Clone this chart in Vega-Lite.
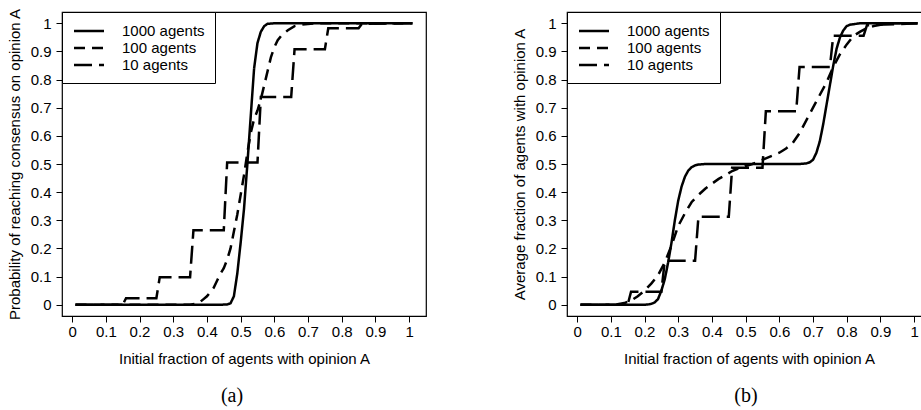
{
  "$schema": "https://vega.github.io/schema/vega-lite/v6.json",
  "padding": {"left": 6, "top": 7, "right": 0, "bottom": 0},
  "background": "white",
  "datasets": {
    "a": [
      {"x": 0.01, "y": 0, "series": "1000 agents"},
      {"x": 0.44, "y": 0, "series": "1000 agents"},
      {"x": 0.46, "y": 0.001, "series": "1000 agents"},
      {"x": 0.47, "y": 0.005, "series": "1000 agents"},
      {"x": 0.48, "y": 0.03, "series": "1000 agents"},
      {"x": 0.49, "y": 0.11, "series": "1000 agents"},
      {"x": 0.50, "y": 0.22, "series": "1000 agents"},
      {"x": 0.51, "y": 0.34, "series": "1000 agents"},
      {"x": 0.52, "y": 0.5, "series": "1000 agents"},
      {"x": 0.53, "y": 0.67, "series": "1000 agents"},
      {"x": 0.54, "y": 0.84, "series": "1000 agents"},
      {"x": 0.55, "y": 0.93, "series": "1000 agents"},
      {"x": 0.56, "y": 0.97, "series": "1000 agents"},
      {"x": 0.57, "y": 0.99, "series": "1000 agents"},
      {"x": 0.58, "y": 0.998, "series": "1000 agents"},
      {"x": 0.60, "y": 1, "series": "1000 agents"},
      {"x": 1.01, "y": 1, "series": "1000 agents"},
      {"x": 0.01, "y": 0, "series": "100 agents"},
      {"x": 0.35, "y": 0, "series": "100 agents"},
      {"x": 0.37, "y": 0.004, "series": "100 agents"},
      {"x": 0.38, "y": 0.01, "series": "100 agents"},
      {"x": 0.39, "y": 0.02, "series": "100 agents"},
      {"x": 0.40, "y": 0.03, "series": "100 agents"},
      {"x": 0.41, "y": 0.045, "series": "100 agents"},
      {"x": 0.42, "y": 0.06, "series": "100 agents"},
      {"x": 0.43, "y": 0.085, "series": "100 agents"},
      {"x": 0.44, "y": 0.11, "series": "100 agents"},
      {"x": 0.45, "y": 0.13, "series": "100 agents"},
      {"x": 0.46, "y": 0.16, "series": "100 agents"},
      {"x": 0.47, "y": 0.2, "series": "100 agents"},
      {"x": 0.48, "y": 0.26, "series": "100 agents"},
      {"x": 0.49, "y": 0.32, "series": "100 agents"},
      {"x": 0.50, "y": 0.39, "series": "100 agents"},
      {"x": 0.51, "y": 0.46, "series": "100 agents"},
      {"x": 0.52, "y": 0.54, "series": "100 agents"},
      {"x": 0.53, "y": 0.61, "series": "100 agents"},
      {"x": 0.54, "y": 0.66, "series": "100 agents"},
      {"x": 0.55, "y": 0.69, "series": "100 agents"},
      {"x": 0.56, "y": 0.73, "series": "100 agents"},
      {"x": 0.57, "y": 0.78, "series": "100 agents"},
      {"x": 0.58, "y": 0.83, "series": "100 agents"},
      {"x": 0.59, "y": 0.88, "series": "100 agents"},
      {"x": 0.60, "y": 0.915, "series": "100 agents"},
      {"x": 0.61, "y": 0.94, "series": "100 agents"},
      {"x": 0.62, "y": 0.955, "series": "100 agents"},
      {"x": 0.64, "y": 0.975, "series": "100 agents"},
      {"x": 0.66, "y": 0.99, "series": "100 agents"},
      {"x": 0.68, "y": 0.995, "series": "100 agents"},
      {"x": 0.72, "y": 1, "series": "100 agents"},
      {"x": 1.01, "y": 1, "series": "100 agents"},
      {"x": 0.01, "y": 0, "series": "10 agents"},
      {"x": 0.15, "y": 0, "series": "10 agents"},
      {"x": 0.16, "y": 0.023, "series": "10 agents"},
      {"x": 0.25, "y": 0.023, "series": "10 agents"},
      {"x": 0.26, "y": 0.098, "series": "10 agents"},
      {"x": 0.35, "y": 0.098, "series": "10 agents"},
      {"x": 0.36, "y": 0.265, "series": "10 agents"},
      {"x": 0.45, "y": 0.265, "series": "10 agents"},
      {"x": 0.46, "y": 0.505, "series": "10 agents"},
      {"x": 0.55, "y": 0.505, "series": "10 agents"},
      {"x": 0.56, "y": 0.738, "series": "10 agents"},
      {"x": 0.65, "y": 0.738, "series": "10 agents"},
      {"x": 0.66, "y": 0.908, "series": "10 agents"},
      {"x": 0.75, "y": 0.908, "series": "10 agents"},
      {"x": 0.76, "y": 0.982, "series": "10 agents"},
      {"x": 0.85, "y": 0.982, "series": "10 agents"},
      {"x": 0.86, "y": 0.998, "series": "10 agents"},
      {"x": 1.01, "y": 1, "series": "10 agents"}
    ],
    "b": [
      {"x": 0.01, "y": 0, "series": "1000 agents"},
      {"x": 0.20, "y": 0, "series": "1000 agents"},
      {"x": 0.21, "y": 0.001, "series": "1000 agents"},
      {"x": 0.22, "y": 0.003, "series": "1000 agents"},
      {"x": 0.23, "y": 0.008, "series": "1000 agents"},
      {"x": 0.24, "y": 0.02, "series": "1000 agents"},
      {"x": 0.25, "y": 0.05, "series": "1000 agents"},
      {"x": 0.26, "y": 0.09, "series": "1000 agents"},
      {"x": 0.27, "y": 0.15, "series": "1000 agents"},
      {"x": 0.28, "y": 0.22, "series": "1000 agents"},
      {"x": 0.29, "y": 0.3, "series": "1000 agents"},
      {"x": 0.30, "y": 0.37, "series": "1000 agents"},
      {"x": 0.31, "y": 0.42, "series": "1000 agents"},
      {"x": 0.32, "y": 0.455, "series": "1000 agents"},
      {"x": 0.33, "y": 0.477, "series": "1000 agents"},
      {"x": 0.34, "y": 0.489, "series": "1000 agents"},
      {"x": 0.35, "y": 0.495, "series": "1000 agents"},
      {"x": 0.36, "y": 0.498, "series": "1000 agents"},
      {"x": 0.38, "y": 0.5, "series": "1000 agents"},
      {"x": 0.66, "y": 0.5, "series": "1000 agents"},
      {"x": 0.68, "y": 0.502, "series": "1000 agents"},
      {"x": 0.69, "y": 0.506, "series": "1000 agents"},
      {"x": 0.70, "y": 0.515, "series": "1000 agents"},
      {"x": 0.71, "y": 0.54, "series": "1000 agents"},
      {"x": 0.72, "y": 0.58, "series": "1000 agents"},
      {"x": 0.73, "y": 0.64, "series": "1000 agents"},
      {"x": 0.74, "y": 0.71, "series": "1000 agents"},
      {"x": 0.75, "y": 0.78, "series": "1000 agents"},
      {"x": 0.76, "y": 0.85, "series": "1000 agents"},
      {"x": 0.77, "y": 0.91, "series": "1000 agents"},
      {"x": 0.78, "y": 0.95, "series": "1000 agents"},
      {"x": 0.79, "y": 0.975, "series": "1000 agents"},
      {"x": 0.80, "y": 0.99, "series": "1000 agents"},
      {"x": 0.81, "y": 0.995, "series": "1000 agents"},
      {"x": 0.84, "y": 1, "series": "1000 agents"},
      {"x": 1.01, "y": 1, "series": "1000 agents"},
      {"x": 0.01, "y": 0, "series": "100 agents"},
      {"x": 0.10, "y": 0, "series": "100 agents"},
      {"x": 0.12, "y": 0.002, "series": "100 agents"},
      {"x": 0.14, "y": 0.006, "series": "100 agents"},
      {"x": 0.16, "y": 0.015, "series": "100 agents"},
      {"x": 0.18, "y": 0.03, "series": "100 agents"},
      {"x": 0.20, "y": 0.05, "series": "100 agents"},
      {"x": 0.22, "y": 0.075, "series": "100 agents"},
      {"x": 0.24, "y": 0.105, "series": "100 agents"},
      {"x": 0.26, "y": 0.15, "series": "100 agents"},
      {"x": 0.28, "y": 0.21, "series": "100 agents"},
      {"x": 0.30, "y": 0.28, "series": "100 agents"},
      {"x": 0.32, "y": 0.325, "series": "100 agents"},
      {"x": 0.34, "y": 0.365, "series": "100 agents"},
      {"x": 0.36, "y": 0.39, "series": "100 agents"},
      {"x": 0.38, "y": 0.412, "series": "100 agents"},
      {"x": 0.40, "y": 0.43, "series": "100 agents"},
      {"x": 0.42, "y": 0.447, "series": "100 agents"},
      {"x": 0.44, "y": 0.46, "series": "100 agents"},
      {"x": 0.46, "y": 0.475, "series": "100 agents"},
      {"x": 0.48, "y": 0.485, "series": "100 agents"},
      {"x": 0.50, "y": 0.493, "series": "100 agents"},
      {"x": 0.52, "y": 0.5, "series": "100 agents"},
      {"x": 0.54, "y": 0.51, "series": "100 agents"},
      {"x": 0.56, "y": 0.52, "series": "100 agents"},
      {"x": 0.58, "y": 0.53, "series": "100 agents"},
      {"x": 0.60, "y": 0.54, "series": "100 agents"},
      {"x": 0.62, "y": 0.555, "series": "100 agents"},
      {"x": 0.64, "y": 0.575, "series": "100 agents"},
      {"x": 0.66, "y": 0.61, "series": "100 agents"},
      {"x": 0.68, "y": 0.655, "series": "100 agents"},
      {"x": 0.70, "y": 0.7, "series": "100 agents"},
      {"x": 0.72, "y": 0.745, "series": "100 agents"},
      {"x": 0.74, "y": 0.79, "series": "100 agents"},
      {"x": 0.76, "y": 0.845, "series": "100 agents"},
      {"x": 0.78, "y": 0.89, "series": "100 agents"},
      {"x": 0.80, "y": 0.925, "series": "100 agents"},
      {"x": 0.82, "y": 0.955, "series": "100 agents"},
      {"x": 0.84, "y": 0.97, "series": "100 agents"},
      {"x": 0.86, "y": 0.983, "series": "100 agents"},
      {"x": 0.88, "y": 0.99, "series": "100 agents"},
      {"x": 0.90, "y": 0.995, "series": "100 agents"},
      {"x": 0.93, "y": 1, "series": "100 agents"},
      {"x": 1.01, "y": 1, "series": "100 agents"},
      {"x": 0.01, "y": 0, "series": "10 agents"},
      {"x": 0.15, "y": 0, "series": "10 agents"},
      {"x": 0.16, "y": 0.046, "series": "10 agents"},
      {"x": 0.25, "y": 0.046, "series": "10 agents"},
      {"x": 0.26, "y": 0.156, "series": "10 agents"},
      {"x": 0.35, "y": 0.156, "series": "10 agents"},
      {"x": 0.36, "y": 0.313, "series": "10 agents"},
      {"x": 0.45, "y": 0.313, "series": "10 agents"},
      {"x": 0.46, "y": 0.487, "series": "10 agents"},
      {"x": 0.55, "y": 0.487, "series": "10 agents"},
      {"x": 0.56, "y": 0.687, "series": "10 agents"},
      {"x": 0.65, "y": 0.687, "series": "10 agents"},
      {"x": 0.66, "y": 0.845, "series": "10 agents"},
      {"x": 0.75, "y": 0.845, "series": "10 agents"},
      {"x": 0.76, "y": 0.956, "series": "10 agents"},
      {"x": 0.85, "y": 0.956, "series": "10 agents"},
      {"x": 0.86, "y": 0.993, "series": "10 agents"},
      {"x": 1.01, "y": 1, "series": "10 agents"}
    ]
  },
  "spacing": 84,
  "resolve": {"scale": {"strokeDash": "independent"}, "legend": {"strokeDash": "independent"}},
  "hconcat": [
    {
      "width": 364,
      "height": 304,
      "data": {"name": "a"},
      "title": {"text": "(a)", "orient": "bottom", "anchor": "middle", "frame": "group", "dx": -12, "offset": 20, "font": "Liberation Serif", "fontSize": 20, "fontWeight": "normal", "color": "black"},
      "mark": {"type": "line", "color": "black", "strokeWidth": 2.5, "clip": true},
      "encoding": {
        "x": {"field": "x", "type": "quantitative", "scale": {"domain": [-0.03, 1.05], "nice": false, "zero": false}, "axis": {"values": [0, 0.1, 0.2, 0.3, 0.4, 0.5, 0.6, 0.7, 0.8, 0.9, 1], "format": "~g", "title": "Initial fraction of agents with opinion A"}},
        "y": {"field": "y", "type": "quantitative", "scale": {"domain": [-0.04, 1.04], "nice": false, "zero": false}, "axis": {"values": [0, 0.1, 0.2, 0.3, 0.4, 0.5, 0.6, 0.7, 0.8, 0.9, 1], "format": "~g", "title": "Probability of reaching consensus on opinion A"}},
        "strokeDash": {"field": "series", "type": "nominal", "scale": {"domain": ["1000 agents", "100 agents", "10 agents"], "range": [[1, 0], [11, 7], [18, 7]]}, "legend": {"title": null}}
      }
    },
    {
      "width": 364,
      "height": 304,
      "data": {"name": "b"},
      "title": {"text": "(b)", "orient": "bottom", "anchor": "middle", "frame": "group", "dx": -3, "offset": 20, "font": "Liberation Serif", "fontSize": 20, "fontWeight": "normal", "color": "black"},
      "mark": {"type": "line", "color": "black", "strokeWidth": 2.5, "clip": true},
      "encoding": {
        "x": {"field": "x", "type": "quantitative", "scale": {"domain": [-0.03, 1.05], "nice": false, "zero": false}, "axis": {"values": [0, 0.1, 0.2, 0.3, 0.4, 0.5, 0.6, 0.7, 0.8, 0.9, 1], "format": "~g", "title": "Initial fraction of agents with opinion A"}},
        "y": {"field": "y", "type": "quantitative", "scale": {"domain": [-0.04, 1.04], "nice": false, "zero": false}, "axis": {"values": [0, 0.1, 0.2, 0.3, 0.4, 0.5, 0.6, 0.7, 0.8, 0.9, 1], "format": "~g", "title": "Average fraction of agents with opinion A"}},
        "strokeDash": {"field": "series", "type": "nominal", "scale": {"domain": ["1000 agents", "100 agents", "10 agents"], "range": [[1, 0], [11, 7], [18, 7]]}, "legend": {"title": null}}
      }
    }
  ],
  "config": {
    "font": "Liberation Sans",
    "view": {"stroke": "black", "strokeWidth": 1.2},
    "axis": {
      "domain": false,
      "grid": false,
      "ticks": true,
      "tickColor": "black",
      "tickSize": 6,
      "tickWidth": 1,
      "labelColor": "black",
      "labelFont": "Liberation Sans",
      "labelFontSize": 15,
      "titleFont": "Liberation Sans",
      "titleFontSize": 15,
      "titleFontWeight": "normal",
      "titleColor": "black"
    },
    "axisX": {"labelPadding": 2, "titlePadding": 12, "labelFlush": false},
    "axisY": {"labelPadding": 5, "titlePadding": 8, "labelFlush": false},
    "legend": {
      "orient": "top-left",
      "offset": 0,
      "strokeColor": "black",
      "fillColor": "white",
      "padding": 10,
      "symbolOffset": 8,
      "symbolType": "M-2,0H2",
      "symbolSize": 225,
      "symbolStrokeWidth": 2.5,
      "symbolStrokeColor": "black",
      "symbolFillColor": "transparent",
      "labelFont": "Liberation Sans",
      "labelFontSize": 15,
      "labelColor": "black",
      "labelOffset": 24,
      "rowPadding": 0
    }
  }
}
